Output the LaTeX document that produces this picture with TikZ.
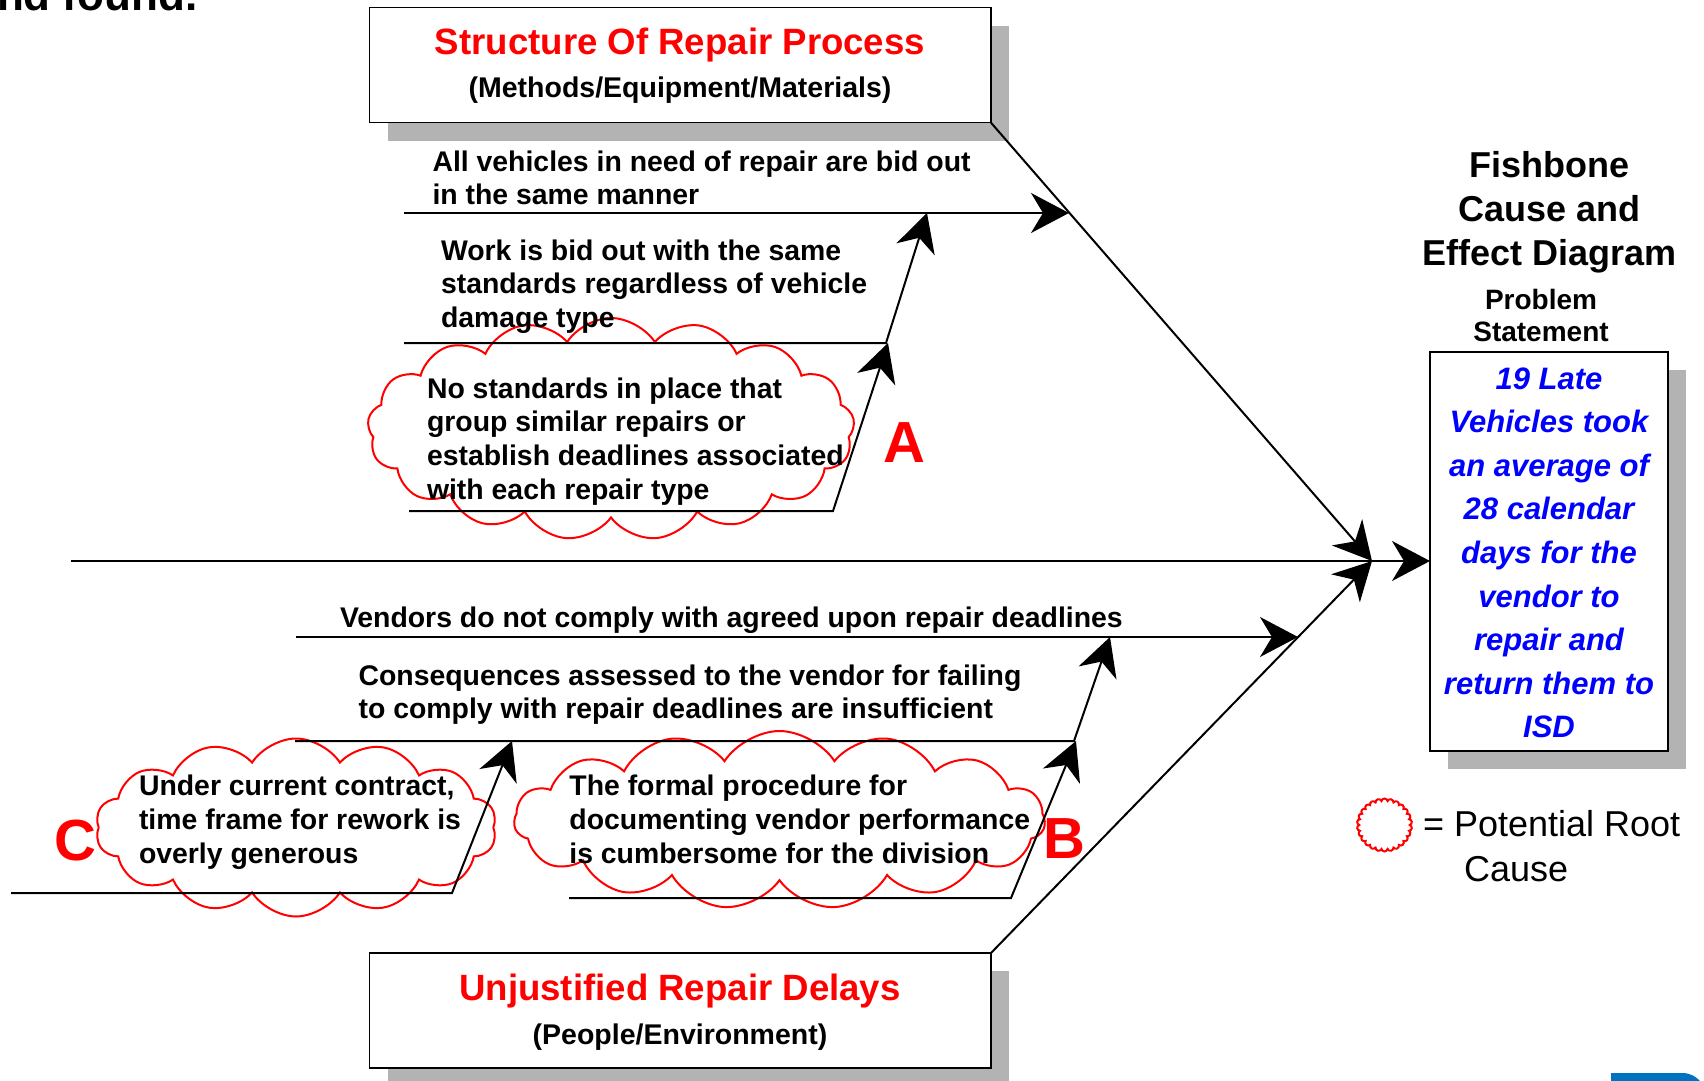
\documentclass[tikz,border=0pt]{standalone}
\usepackage{fontspec}
\setmainfont{Liberation Sans}
\usetikzlibrary{shapes.symbols,arrows.meta}
\definecolor{shadowgrey}{RGB}{179,179,179}
\definecolor{causered}{RGB}{255,0,0}
\definecolor{stmtblue}{RGB}{0,0,255}
\definecolor{logoblue}{RGB}{0,114,192}

\begin{document}
\begin{tikzpicture}[x=0.5pt,y=-0.5pt,
  every node/.style={inner sep=0pt, outer sep=0pt},
  bone/.style={line width=1pt, line join=miter},
  tipped/.style={-{Stealth[length=19pt,width=20pt,inset=6pt]}},
  causebox/.style={draw=black, line width=0.8pt, fill=white,
    minimum width=310.75pt, minimum height=57.5pt},
  shade/.style={fill=shadowgrey},
  rootcloud/.style={draw=causered, line width=1pt, cloud, cloud puffs=#1,
    cloud puff arc=115, cloud ignores aspect},
  % multi-line texts are placed by the baseline of their last line
  bonetext/.style={font=\fontsize{14.2pt}{16.85pt}\selectfont\bfseries,
    align=left, anchor=base west},
  boxtitle/.style={font=\fontsize{18.3pt}{22pt}\selectfont\bfseries,
    text=causered, anchor=base},
  boxsub/.style={font=\fontsize{14.25pt}{17pt}\selectfont\bfseries, anchor=base},
  rootletter/.style={font=\fontsize{29pt}{34pt}\selectfont\bfseries, text=causered},
]
\useasboundingbox (0,0) rectangle (1704,1081);

% heading remnant of the slide
\node[font=\fontsize{22pt}{26pt}\selectfont\bfseries, anchor=base west]
  (pageTitle) at (-3,11) {nd found.};

% category boxes with drop shadows
\node[causebox, draw=none, fill=none] (topBox) at (680.25,65.2) {};
\fill[shade] ([xshift=9pt,yshift=-9pt]topBox.south west)
  rectangle ([xshift=9pt,yshift=-9pt]topBox.north east);
\node[causebox] (topBoxFace) at (topBox) {};
\node[boxtitle] (topTitle) at (680,54.5) {Structure Of Repair Process};
\node[boxsub] (topSub) at (680,98) {(Methods/Equipment/Materials)};

\node[causebox, draw=none, fill=none] (botBox) at (680.25,1010.5) {};
\fill[shade] ([xshift=9pt,yshift=-9pt]botBox.south west)
  rectangle ([xshift=9pt,yshift=-9pt]botBox.north east);
\node[causebox] (botBoxFace) at (botBox) {};
\node[boxtitle] (botTitle) at (680,1000) {Unjustified Repair Delays};
\node[boxsub] (botSub) at (680,1044) {(People/Environment)};

% problem statement box
\node[minimum width=119pt, minimum height=199.5pt] (probBox) at (1549,551.5) {};
\fill[shade] ([xshift=9pt,yshift=-9pt]probBox.south west)
  rectangle ([xshift=9pt,yshift=-9pt]probBox.north east);
\node[draw=black, line width=0.8pt, fill=white, minimum width=119pt,
  minimum height=199.5pt] (probFace) at (probBox) {};
\node[font=\fontsize{15.5pt}{21.8pt}\selectfont\bfseries\itshape, text=stmtblue,
  align=center, anchor=base] (probText) at (1549,737.8)
  {19 Late\\Vehicles took\\an average of\\28 calendar\\days for the\\vendor to\\repair and\\return them to\\ISD};

% right-hand headings
\node[font=\fontsize{18pt}{22pt}\selectfont\bfseries, align=center, anchor=base]
  (diagTitle) at (1549.5,265) {Fishbone\\Cause and\\Effect Diagram};
\node[font=\fontsize{14pt}{16.25pt}\selectfont\bfseries, align=center, anchor=base]
  (probLabel) at (1541,341.5) {Problem\\Statement};

% potential root cause clouds
\node[rootcloud=17, minimum width=243.5pt, minimum height=111pt] (cloudA) at (611,429) {};
\node[rootcloud=15, minimum width=265.5pt, minimum height=89pt] (cloudB) at (779.5,820) {};
\node[rootcloud=14, minimum width=200.5pt, minimum height=89pt] (cloudC) at (296,827.5) {};

% skeleton points
\coordinate (hub) at (1372,561);
\coordinate (spineStart) at (70.6,561);
\coordinate (b1L) at (404,213);   \coordinate (b1R) at (1069,213);
\coordinate (b2L) at (404,343);   \coordinate (b2K) at (886,343);   \coordinate (b2T) at (927,213);
\coordinate (b3L) at (409,511);   \coordinate (b3K) at (833,511);   \coordinate (b3T) at (888,343);
\coordinate (b4L) at (296,637);   \coordinate (b4R) at (1298,637);
\coordinate (b5L) at (295,741);   \coordinate (b5K) at (1074,741);  \coordinate (b5T) at (1110,637);
\coordinate (b6L) at (569,898);   \coordinate (b6K) at (1011,898);  \coordinate (b6T) at (1076,741);
\coordinate (b7L) at (11,893);    \coordinate (b7K) at (452,893);   \coordinate (b7T) at (512,741);

% spine and main diagonals
\draw[bone, tipped] (spineStart) -- (probFace.west |- spineStart);
\draw[bone, tipped] (topBoxFace.south east) -- (hub);
\draw[bone, tipped] (botBoxFace.north east) -- (hub);

% bones of the upper category
\draw[bone, tipped] (b1L) -- (b1R);
\draw[bone, tipped] (b2L) -- (b2K) -- (b2T);
\draw[bone, tipped] (b3L) -- (b3K) -- (b3T);

% bones of the lower category
\draw[bone, tipped] (b4L) -- (b4R);
\draw[bone, tipped] (b5L) -- (b5K) -- (b5T);
\draw[bone, tipped] (b6L) -- (b6K) -- (b6T);
\draw[bone, tipped] (b7L) -- (b7K) -- (b7T);

% cause texts
\node[bonetext] (t1) at (432.5,204.7) {All vehicles in need of repair are bid out\\in the same manner};
\node[bonetext] (t2) at (441,327.4) {Work is bid out with the same\\standards regardless of vehicle\\damage type};
\node[bonetext] (t3) at (427,499.1) {No standards in place that\\group similar repairs or\\establish deadlines associated\\with each repair type};
\node[bonetext] (t4) at (340,627) {Vendors do not comply with agreed upon repair deadlines};
\node[bonetext] (t5) at (358.6,718.7) {Consequences assessed to the vendor for failing\\to comply with repair deadlines are insufficient};
\node[bonetext] (t6) at (569.4,863.1) {The formal procedure for\\documenting vendor performance\\is cumbersome for the division};
\node[bonetext] (t7) at (139,863.1) {Under current contract,\\time frame for rework is\\overly generous};

% root cause markers
\node[rootletter] (markA) at (904,443) {A};
\node[rootletter] (markB) at (1064,839) {B};
\node[rootletter] (markC) at (75,841) {C};

% legend
\node[draw=causered, line width=1pt, cloud, cloud puffs=26, cloud puff arc=160,
  cloud ignores aspect, minimum width=27.5pt, minimum height=26.5pt] (legendCloud) at (1384.5,825) {};
\node[font=\fontsize{18pt}{21.5pt}\selectfont, anchor=base west] (legendText) at (1423,836) {= Potential Root};
\node[font=\fontsize{18pt}{21.5pt}\selectfont, anchor=base west] (legendCause) at (1464,881) {Cause};

% corner logo fragment
\fill[logoblue] (1611,1073) -- (1682,1073) .. controls (1691,1073) and (1696,1077) .. (1700,1081) -- (1611,1081) -- cycle;
\end{tikzpicture}
\end{document}
